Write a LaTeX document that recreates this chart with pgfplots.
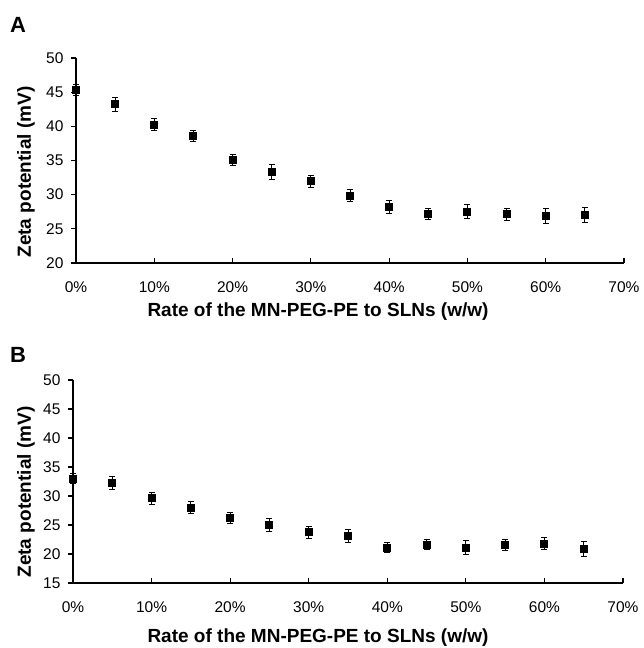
\documentclass[border=0pt]{standalone}
\usepackage{fontspec}
\setmainfont{Liberation Sans}
\usepackage{pgfplots}
\pgfplotsset{compat=1.18}
\pgfplotstableread{
x y e
0 45.25 0.8
5 43.2 1.0
10 40.25 0.85
15 38.55 0.8
20 35.08 0.85
25 33.3 1.1
30 31.95 0.9
35 29.85 0.85
40 28.2 0.9
45 27.2 0.8
50 27.5 1.05
55 27.1 0.9
60 26.9 1.05
65 27.05 1.1
}\dataA
\pgfplotstableread{
x y e
0 33.0 0.9
5 32.2 1.1
10 29.6 1.0
15 28.0 1.0
20 26.15 0.95
25 24.95 1.15
30 23.75 1.0
35 23.05 1.1
40 21.1 0.85
45 21.6 0.9
50 21.1 1.2
55 21.6 0.95
60 21.8 1.05
65 20.9 1.3
}\dataB
\pgfplotsset{
  zetastyle/.style={
    scale only axis,
    axis lines*=left,
    axis line style={line width=1.1pt, black},
    xmin=0, xmax=70,
    xtick={0,10,...,70},
    xticklabels={0\%,10\%,20\%,30\%,40\%,50\%,60\%,70\%},
    tick align=outside,
    major tick length=5pt,
    tick style={line width=1.1pt, black},
    x tick style={yshift=5pt},
    /pgf/number format/assume math mode=true,
    tick label style={font=\fontsize{15.5}{18}\selectfont},
    x tick label style={yshift=-10pt},
    y tick label style={xshift=-4pt},
    clip=false,
  },
  zetaplot/.style={
    only marks,
    mark=square*,
    mark size=3.5pt,
    mark options={draw=black, fill=black, line width=0pt},
    error bars/.cd, y dir=both, y explicit,
    error bar style={line width=1pt, black},
    error mark options={rotate=90, mark size=3pt, line width=1pt, black},
  },
}
\begin{document}
\begin{tikzpicture}
\useasboundingbox (0pt,0pt) rectangle (644pt,648pt);
\begin{axis}[zetastyle,
  at={(76pt,385pt)}, anchor=south west,
  width=548pt, height=205pt,
  ymin=20, ymax=50, ytick={20,25,...,50}]
\addplot+[zetaplot] table[x=x, y=y, y error=e] {\dataA};
\end{axis}
\begin{axis}[zetastyle,
  at={(73pt,65pt)}, anchor=south west,
  width=550pt, height=203pt,
  ymin=15, ymax=50, ytick={15,20,...,50}]
\addplot+[zetaplot] table[x=x, y=y, y error=e] {\dataB};
\end{axis}
\node[font=\fontsize{22}{24}\bfseries\selectfont] at (18pt,623pt) {A};
\node[font=\fontsize{22}{24}\bfseries\selectfont] at (18pt,293pt) {B};
\node[font=\fontsize{19}{22}\bfseries\selectfont, rotate=90] at (26pt,476pt) {Zeta potential (mV)};
\node[font=\fontsize{19}{22}\bfseries\selectfont, rotate=90] at (26pt,156pt) {Zeta potential (mV)};
\node[font=\fontsize{19}{22}\bfseries\selectfont] at (318pt,336.5pt) {Rate of the MN-PEG-PE to SLNs (w/w)};
\node[font=\fontsize{19}{22}\bfseries\selectfont] at (318pt,10pt) {Rate of the MN-PEG-PE to SLNs (w/w)};
\end{tikzpicture}
\end{document}
